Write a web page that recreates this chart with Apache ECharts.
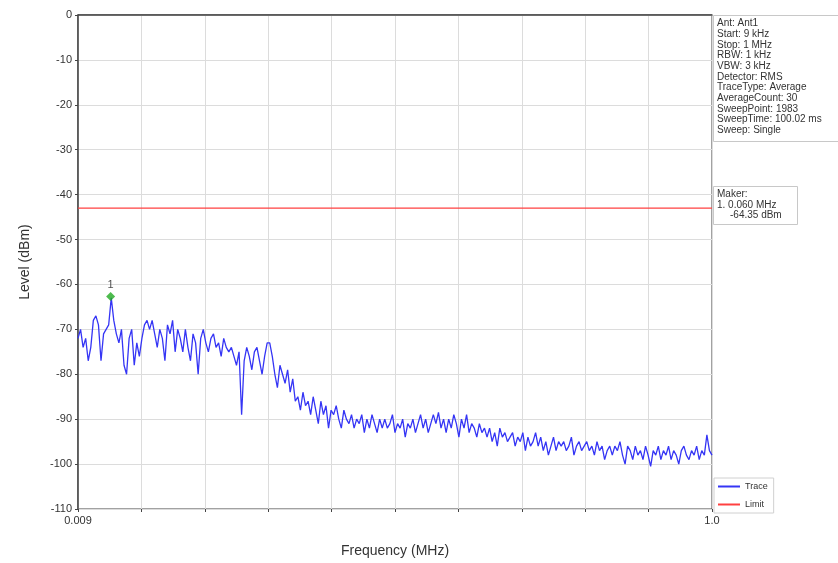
<!DOCTYPE html>
<html>
<head>
<meta charset="utf-8">
<script src="https://cdn.jsdelivr.net/npm/echarts@6/dist/echarts.min.js"></script>
<style>
  html, body { margin: 0; padding: 0; background: #fff; }
  #chart { width: 838px; height: 563px; }
</style>
</head>
<body>
<div id="chart"></div>
<script>
// sweep definition (MHz)
var sweepStart = 0.009;
var sweepStop = 1.0;

// trace levels (dBm) left to right
var levels = [
  -72, -70, -74, -72, -77, -74, -68, -67, -69, -77,
  -71, -70, -69, -63, -68, -71, -73, -70, -78, -80,
  -72, -70, -78, -73, -76, -72, -69, -68, -70, -68,
  -71, -74, -70, -72, -77, -69, -71, -68, -75, -70,
  -72, -75, -70, -74, -77, -71, -73, -80, -72, -70,
  -73, -75, -72, -71, -74, -73, -76, -72, -74, -75,
  -74, -76, -78, -75, -89, -77, -74, -76, -79, -75,
  -74, -77, -80, -76, -73, -73, -76, -80, -83, -78,
  -80, -82, -79, -84, -81, -86, -85, -88, -84, -87,
  -86, -89, -85, -88, -91, -86, -89, -87, -92, -88,
  -89, -87, -90, -92, -88, -90, -91, -89, -92, -90,
  -91, -89, -93, -90, -92, -89, -91, -93, -90, -92,
  -90, -92, -91, -89, -93, -91, -92, -90, -94, -91,
  -92, -90, -93, -91, -89, -92, -90, -93, -91, -89,
  -91, -88.5, -92, -90, -93, -90, -92, -89, -91, -94,
  -90, -92, -89, -93, -91, -92, -94, -91, -93, -92,
  -94, -92, -95, -93, -96, -92, -94, -93, -95, -94,
  -93, -96, -94, -95, -93, -97, -94, -96, -95, -93,
  -96, -94, -97, -95, -98, -96, -94, -97, -95, -96,
  -95, -97, -96, -94, -98, -96, -95, -97, -96, -95,
  -97, -96, -98, -95, -97, -96, -99, -97, -96, -98,
  -96, -97, -95, -98, -100, -96, -97, -99, -96, -98,
  -97, -99, -96, -98, -100.5, -97, -98, -96, -99, -97,
  -98, -96, -99, -97, -98, -100, -97, -96, -98, -99,
  -97, -98, -96, -99, -97, -98, -93.5, -97, -98
];

var limitLevel = -43;
var markerFreq = 0.060;
var markerLevel = -62.7;

var infoLines = [
  'Ant: Ant1', 'Start: 9 kHz', 'Stop: 1 MHz', 'RBW: 1 kHz', 'VBW: 3 kHz',
  'Detector: RMS', 'TraceType: Average', 'AverageCount: 30',
  'SweepPoint: 1983', 'SweepTime: 100.02 ms', 'Sweep: Single'
];
var markerLines = ['Maker:', '1. 0.060 MHz'];
var markerValueText = '-64.35 dBm';

var xLabels = ['0.009', '1.0'];

var step = (sweepStop - sweepStart) / (levels.length - 1);
var trace = levels.map(function (v, i) {
  return [sweepStart + i * step, v];
});

var chart = echarts.init(document.getElementById('chart'));
var font = 'Liberation Sans';

var option = {
  animation: false,
  textStyle: { fontFamily: font },
  grid: {
    left: 78, right: 126, top: 15, bottom: 53,
    show: true, borderColor: '#444', borderWidth: 1
  },
  legend: {
    data: ['Trace', 'Limit'],
    orient: 'vertical',
    left: 714, top: 478,
    icon: 'rect', itemWidth: 22, itemHeight: 2, itemGap: 9,
    padding: [4, 6, 4, 4],
    backgroundColor: '#fff', borderColor: '#d0d0d0', borderWidth: 1,
    textStyle: { fontSize: 9, color: '#333', fontFamily: font }
  },
  xAxis: [{
    type: 'value',
    min: sweepStart, max: sweepStop,
    name: 'Frequency (MHz)', nameLocation: 'middle', nameGap: 35,
    nameTextStyle: { fontSize: 14, color: '#333' },
    axisLine: { lineStyle: { color: '#444', width: 1.5 } },
    axisTick: { show: false },
    splitLine: { show: false },
    axisLabel: {
      customValues: [sweepStart, sweepStop],
      formatter: function (v) { return Math.abs(v - sweepStart) < 1e-6 ? xLabels[0] : xLabels[1]; },
      fontSize: 11, color: '#333', margin: 6
    }
  }, {
    // ten equal divisions for the grid
    type: 'value', min: 0, max: 10, interval: 1,
    position: 'bottom',
    axisLine: { show: false },
    axisTick: { show: true, length: 3, lineStyle: { color: '#444' } },
    axisLabel: { show: false },
    splitLine: { show: true, lineStyle: { color: '#dcdcdc', width: 1 } }
  }],
  yAxis: {
    type: 'value', min: -110, max: 0, interval: 10,
    name: 'Level (dBm)', nameLocation: 'middle', nameGap: 46,
    nameTextStyle: { fontSize: 14, color: '#333' },
    axisLine: { show: true, lineStyle: { color: '#444', width: 1.5 } },
    axisTick: { show: true, length: 3, lineStyle: { color: '#444' } },
    axisLabel: { fontSize: 11, color: '#333', margin: 6 },
    splitLine: { show: true, lineStyle: { color: '#dcdcdc', width: 1 } }
  },
  series: [{
    name: 'Trace', type: 'line', xAxisIndex: 0,
    data: trace, showSymbol: false,
    lineStyle: { color: '#3535f5', width: 1.3 },
    itemStyle: { color: '#3535f5' }
  }, {
    name: 'Limit', type: 'line', xAxisIndex: 0,
    data: [[sweepStart, limitLevel], [sweepStop, limitLevel]],
    showSymbol: false,
    lineStyle: { color: '#ff4040', width: 1.2 },
    itemStyle: { color: '#ff4040' }
  }, {
    name: 'Marker', type: 'scatter', xAxisIndex: 0,
    data: [[markerFreq, markerLevel]],
    symbol: 'diamond', symbolSize: 9,
    itemStyle: { color: '#22aa22' },
    label: { show: true, position: 'top', formatter: '1', fontSize: 11, color: '#222', distance: 2 },
    z: 5
  }],
  graphic: [{
    type: 'rect',
    shape: { x: 713.5, y: 15.5, width: 130, height: 126 },
    style: { fill: '#fff', stroke: '#c8c8c8', lineWidth: 1 }
  }, {
    type: 'text', x: 717, y: 18,
    style: { text: infoLines.join('\n'), font: '10px ' + font, lineHeight: 10.7, fill: '#333' }
  }, {
    type: 'rect',
    shape: { x: 713.5, y: 186.5, width: 84, height: 38 },
    style: { fill: '#fff', stroke: '#c8c8c8', lineWidth: 1 }
  }, {
    type: 'text', x: 717, y: 189,
    style: { text: markerLines.join('\n'), font: '10px ' + font, lineHeight: 10.7, fill: '#333' }
  }, {
    type: 'text', x: 730, y: 210.5,
    style: { text: markerValueText, font: '10px ' + font, fill: '#333' }
  }]
};

chart.setOption(option);
</script>
</body>
</html>
